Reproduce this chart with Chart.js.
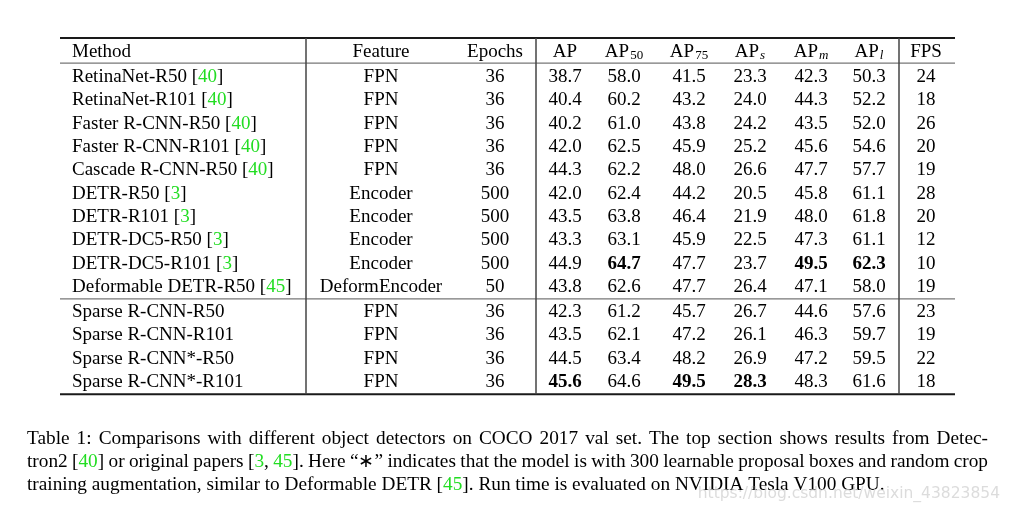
<!DOCTYPE html>
<html>
<head>
<meta charset="utf-8">
<script src="https://cdn.jsdelivr.net/npm/chart.js@4.4.1/dist/chart.umd.min.js"></script>
<style>
html,body{margin:0;padding:0;background:#fff;}
#wrap{width:1009px;height:510px;}
</style>
</head>
<body>
<div id="wrap"><canvas id="c" width="1009" height="510"></canvas></div>
<script>
// ---------- data ----------
const headers = ["Method", "Feature", "Epochs", "AP", "AP|50", "AP|75", "AP|s*", "AP|m*", "AP|l*", "FPS"];
const methods = [
  "RetinaNet-R50 [{40}]", "RetinaNet-R101 [{40}]", "Faster R-CNN-R50 [{40}]", "Faster R-CNN-R101 [{40}]",
  "Cascade R-CNN-R50 [{40}]", "DETR-R50 [{3}]", "DETR-R101 [{3}]", "DETR-DC5-R50 [{3}]",
  "DETR-DC5-R101 [{3}]", "Deformable DETR-R50 [{45}]",
  "Sparse R-CNN-R50", "Sparse R-CNN-R101", "Sparse R-CNN*-R50", "Sparse R-CNN*-R101"
];
const features = ["FPN","FPN","FPN","FPN","FPN","Encoder","Encoder","Encoder","Encoder","DeformEncoder","FPN","FPN","FPN","FPN"];
const epochs = [36,36,36,36,36,500,500,500,500,50,36,36,36,36];
const AP   = [38.7,40.4,40.2,42.0,44.3,42.0,43.5,43.3,44.9,43.8,42.3,43.5,44.5,45.6];
const AP50 = [58.0,60.2,61.0,62.5,62.2,62.4,63.8,63.1,64.7,62.6,61.2,62.1,63.4,64.6];
const AP75 = [41.5,43.2,43.8,45.9,48.0,44.2,46.4,45.9,47.7,47.7,45.7,47.2,48.2,49.5];
const APs  = [23.3,24.0,24.2,25.2,26.6,20.5,21.9,22.5,23.7,26.4,26.7,26.1,26.9,28.3];
const APm  = [42.3,44.3,43.5,45.6,47.7,45.8,48.0,47.3,49.5,47.1,44.6,46.3,47.2,48.3];
const APl  = [50.3,52.2,52.0,54.6,57.7,61.1,61.8,61.1,62.3,58.0,57.6,59.7,59.5,61.6];
const FPS  = [24,18,26,20,19,28,20,12,10,19,23,19,22,18];
// rows with bold value, per metric column
const boldAP = [13], boldAP50 = [8], boldAP75 = [13], boldAPs = [13], boldAPm = [8], boldAPl = [8];
const caption = [
  "Table 1: Comparisons with different object detectors on COCO 2017 val set.  The top section shows results from Detec-",
  "tron2 [{40}] or original papers [{3}, {45}]. Here \u201c\u2217\u201d indicates that the model is with 300 learnable proposal boxes and random crop",
  "training augmentation, similar to Deformable DETR [{45}]. Run time is evaluated on NVIDIA Tesla V100 GPU."
];
const watermark = "https://blog.csdn.net/weixin_43823854";

// ---------- layout (positions & styles) ----------
const FONT = '"Liberation Serif", "Times New Roman", serif';
const FS = 19;
const CAP_FS = 19.3;
const GREEN = '#22dd22';
const TEXT_DY = 2;
const colX = [72, 381, 495, 565, 624, 689, 750, 811, 869, 926]; // col 0 left edge, others centers
const rowGap = 0.08; // extra gap after separator (row units)
const ruleX0 = 60, ruleX1 = 955;
const vlines = [306, 536, 899];

const columns = [
  {vals: methods, align: 'left'},
  {vals: features},
  {vals: epochs.map(String)},
  {vals: AP.map(v=>v.toFixed(1)), bold: boldAP},
  {vals: AP50.map(v=>v.toFixed(1)), bold: boldAP50},
  {vals: AP75.map(v=>v.toFixed(1)), bold: boldAP75},
  {vals: APs.map(v=>v.toFixed(1)), bold: boldAPs},
  {vals: APm.map(v=>v.toFixed(1)), bold: boldAPm},
  {vals: APl.map(v=>v.toFixed(1)), bold: boldAPl},
  {vals: FPS.map(String)}
];

function rowVal(r){ return r + (r >= 10 ? rowGap : 0); }

function parsePieces(s){
  const out = [];
  const re = /\{([^}]*)\}/g; let last = 0, m;
  while((m = re.exec(s))){
    if(m.index > last) out.push([s.slice(last, m.index), '#000']);
    out.push([m[1], GREEN]);
    last = re.lastIndex;
  }
  if(last < s.length) out.push([s.slice(last), '#000']);
  return out;
}
function piecesWidth(ctx, p){ return p.reduce((a,q)=>a+ctx.measureText(q[0]).width,0); }
function drawPieces(ctx, p, x, y){
  for(const q of p){ ctx.fillStyle = q[1]; ctx.fillText(q[0], x, y); x += ctx.measureText(q[0]).width; }
  return x;
}

const tablePlugin = {
  id: 'tablePlugin',
  afterDraw(chart){
    const ctx = chart.ctx, xs = chart.scales.x, ys = chart.scales.y;
    const X = v => xs.getPixelForValue(v), Y = v => ys.getPixelForValue(v);
    ctx.save();
    ctx.textBaseline = 'middle';
    // rules
    const hline = (yv, w, col) => { ctx.strokeStyle = col; ctx.lineWidth = w; ctx.beginPath(); ctx.moveTo(X(ruleX0), yv); ctx.lineTo(X(ruleX1), yv); ctx.stroke(); };
    const yTop = Y(-1.59), yHead = Y(-0.51), ySep = Y(9.56 + rowGap/2), yBot = Y(13.6 + rowGap);
    hline(yTop, 2, '#1a1a1a');
    hline(yHead, 1.2, '#777');
    hline(ySep, 1.2, '#777');
    hline(yBot, 2, '#1a1a1a');
    ctx.strokeStyle = '#444'; ctx.lineWidth = 1.5;
    for(const vx of vlines){ ctx.beginPath(); ctx.moveTo(X(vx), yTop); ctx.lineTo(X(vx), yBot); ctx.stroke(); }
    // header
    const yh = Y(-1.07) + TEXT_DY;
    headers.forEach((h, i) => {
      const [base, sub0] = h.split('|');
      ctx.font = FS + 'px ' + FONT;
      if(!sub0){
        const w = ctx.measureText(base).width;
        ctx.fillStyle = '#000';
        ctx.fillText(base, i === 0 ? X(colX[i]) : X(colX[i]) - w/2, yh);
        return;
      }
      const ital = sub0.endsWith('*');
      const sub = ital ? sub0.slice(0, -1) : sub0;
      const wb = ctx.measureText(base).width;
      const subFont = (ital ? 'italic ' : '') + '13px ' + FONT;
      ctx.font = subFont;
      const ws = ctx.measureText(sub).width;
      const x0 = X(colX[i]) - (wb + ws + 1)/2;
      ctx.font = FS + 'px ' + FONT; ctx.fillStyle = '#000';
      ctx.fillText(base, x0, yh);
      ctx.font = subFont;
      ctx.fillText(sub, x0 + wb + 1, yh + 4);
    });
    // body
    columns.forEach((c, i) => {
      c.vals.forEach((v, r) => {
        const isBold = c.bold && c.bold.includes(r);
        ctx.font = (isBold ? 'bold ' : '') + FS + 'px ' + FONT;
        const p = parsePieces(v);
        const w = piecesWidth(ctx, p);
        const x = c.align === 'left' ? X(colX[i]) : X(colX[i]) - w/2;
        drawPieces(ctx, p, x, Y(rowVal(r)) + TEXT_DY);
      });
    });
    // caption (justified except last line)
    ctx.font = CAP_FS + 'px ' + FONT;
    const cx0 = 27, cx1 = 988;
    const capY = [437, 460, 483];
    caption.forEach((line, li) => {
      const words = line.split(/ +/).map(parsePieces);
      const ws = words.map(w => piecesWidth(ctx, w));
      const total = ws.reduce((a,b)=>a+b,0);
      const sp = li < caption.length - 1 ? (cx1 - cx0 - total) / (words.length - 1) : ctx.measureText(' ').width;
      let x = cx0;
      words.forEach((w, k) => { drawPieces(ctx, w, x, capY[li] + TEXT_DY); x += ws[k] + sp; });
    });
    // watermark
    ctx.font = '15.5px "DejaVu Sans", sans-serif';
    ctx.fillStyle = 'rgba(205,205,205,0.7)';
    ctx.textAlign = 'right';
    ctx.fillText(watermark, 1000, 494);
    ctx.restore();
  }
};

// y scale in row units: row r centered at 75 + 23.33*r
const pxPerRow = 23.33;
const yMin = -75 / pxPerRow, yMax = yMin + 510 / pxPerRow;

new Chart(document.getElementById('c'), {
  type: 'scatter',
  data: { datasets: [{ data: [], pointRadius: 0 }] },
  options: {
    responsive: false,
    animation: false,
    events: [],
    layout: { padding: 0 },
    plugins: { legend: { display: false }, tooltip: { enabled: false } },
    scales: {
      x: { type: 'linear', min: 0, max: 1009, display: false },
      y: { type: 'linear', min: yMin, max: yMax, reverse: true, display: false }
    }
  },
  plugins: [tablePlugin]
});
</script>
</body>
</html>
